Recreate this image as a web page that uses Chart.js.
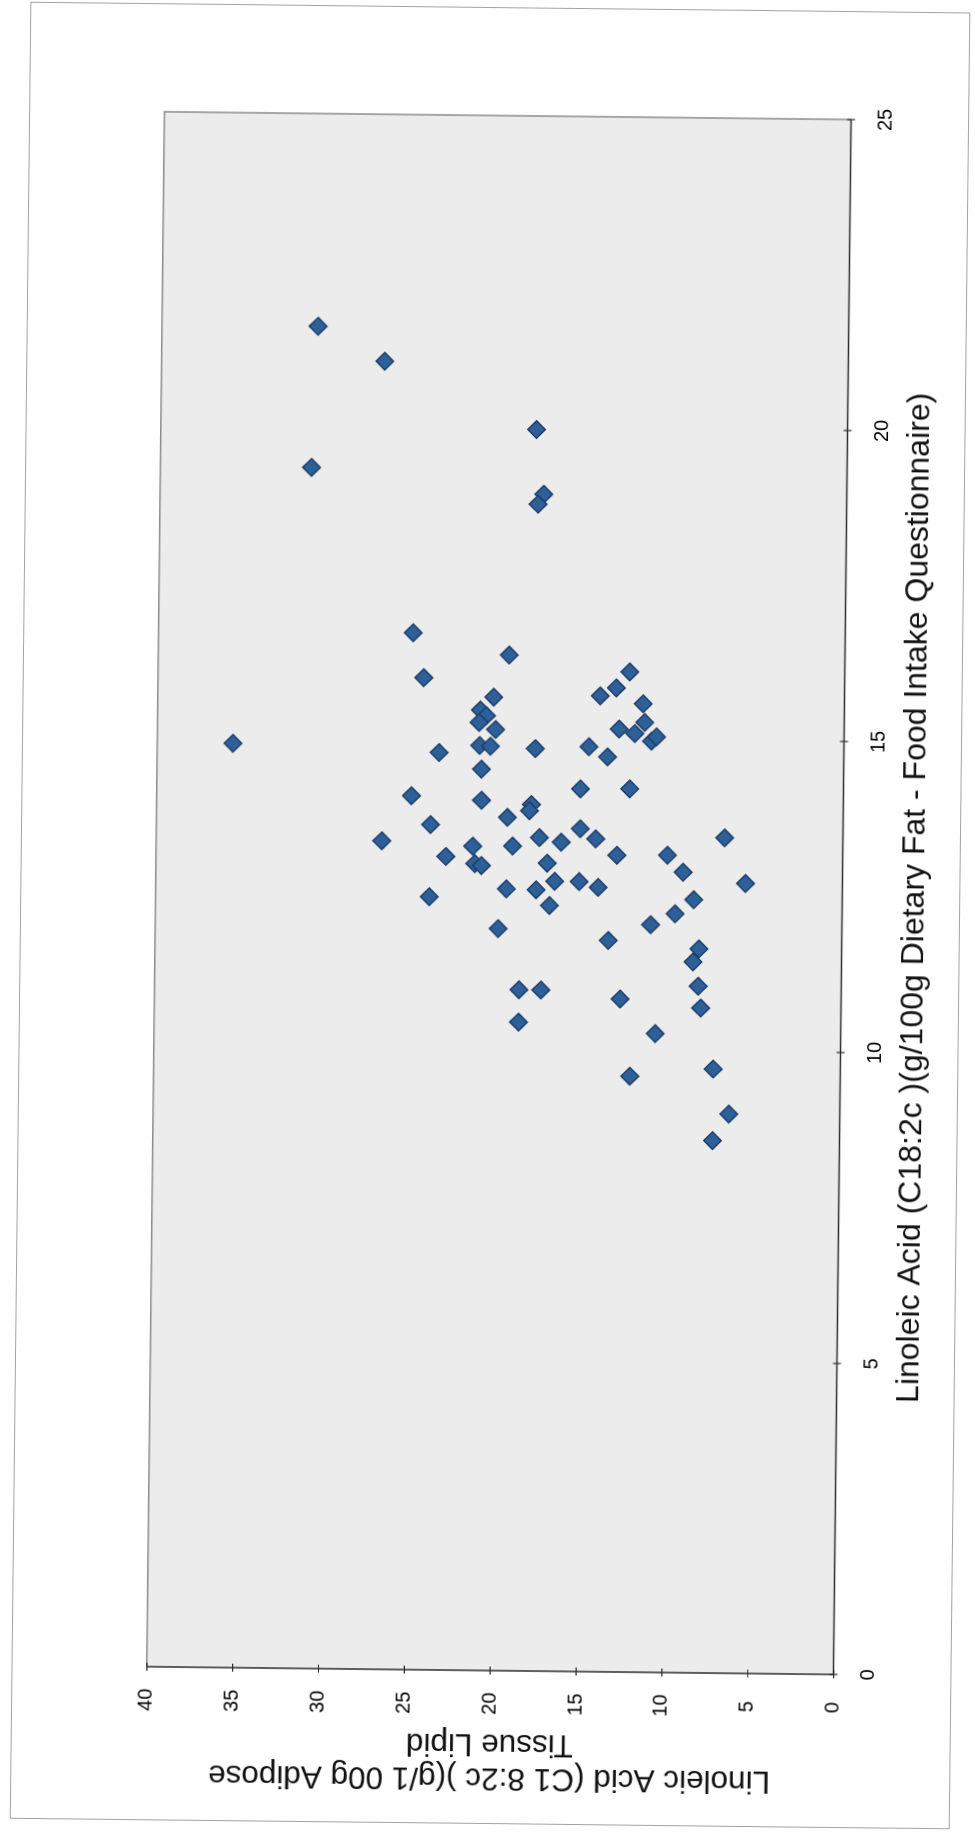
<!DOCTYPE html>
<html>
<head>
<meta charset="utf-8">
<title>Linoleic acid: diet vs adipose tissue</title>
<script src="https://cdn.jsdelivr.net/npm/chart.js@4/dist/chart.umd.min.js"></script>
<style>
  html, body { margin: 0; padding: 0; background: #ffffff; overflow: hidden; }
  #sheet {
    position: absolute; left: 0; top: 0; width: 975px; height: 1838px;
    transform: rotate(0.65deg); transform-origin: 487.5px 919px;
  }
  #page {
    position: absolute; left: 19.7px; top: 7px; width: 940px; height: 1817px;
    box-sizing: border-box; border: 1px solid #a4a4a4; background: #ffffff;
  }
  #c {
    position: absolute; left: -418.8px; top: 445.5px; width: 1817px; height: 940px;
    transform: rotate(-90deg); transform-origin: 50% 50%;
  }
</style>
</head>
<body>
<div id="sheet">
  <div id="page"></div>
  <canvas id="c" width="1817" height="940"></canvas>
</div>
<script>
// Linoleic acid (C18:2c) from the food intake questionnaire, g/100g dietary fat
const dietaryFat = [
  21.58, 21.03, 19.96, 19.31, 18.92, 18.76, 16.67, 16.33, 15.95, 16.08,
  15.82, 15.65, 15.69, 15.57, 15.44, 15.35, 15.24, 15.13, 14.87, 14.86,
  15.27, 15.16, 15.09, 14.97, 15.04, 14.86, 14.75, 14.83, 14.87, 14.71,
  14.49, 14.19, 14.20, 14.05, 13.99, 13.93, 13.83, 13.72, 13.59, 13.55,
  13.32, 13.25, 13.26, 13.40, 13.33, 13.39, 13.08, 12.97, 12.94, 13.13,
  12.99, 12.70, 12.70, 12.61, 12.57, 12.56, 12.31, 12.43, 11.93, 11.76,
  13.43, 13.14, 12.87, 12.70, 12.43, 12.20, 12.02, 11.64, 11.43, 11.04,
  10.69, 10.95, 10.95, 10.43, 10.82, 10.27, 9.71, 9.58, 8.99, 8.56
];

// Linoleic acid (C18:2c) measured in adipose tissue lipid, g/100g
const adiposeLipid = [
  30.91, 27.00, 18.12, 31.20, 17.65, 17.98, 25.17, 19.56, 24.52, 12.53,
  13.30, 20.43, 14.23, 11.73, 21.20, 20.85, 21.27, 20.31, 21.22, 20.59,
  11.62, 13.11, 12.20, 11.22, 10.93, 35.59, 23.58, 17.98, 14.86, 13.77,
  21.10, 15.32, 12.45, 25.16, 21.08, 18.17, 18.28, 19.56, 24.03, 15.31,
  26.86, 21.56, 19.24, 17.68, 16.41, 14.40, 23.12, 21.43, 21.04, 13.16,
  17.21, 16.76, 15.34, 14.23, 19.57, 17.84, 17.06, 24.06, 20.03, 13.61,
  6.89, 10.21, 9.29, 5.65, 8.65, 9.73, 11.15, 8.32, 8.65, 8.34,
  8.18, 18.77, 17.50, 18.78, 12.88, 10.81, 7.41, 12.26, 6.47, 7.40
];

const xTickValues = [0, 5, 10, 15, 20, 25];
const yTickValues = [0, 5, 10, 15, 20, 25, 30, 35, 40];

const xTitle = 'Linoleic Acid (C18:2c )(g/100g Dietary Fat - Food Intake Questionnaire)';
const yTitle = ['Linoleic Acid (C1 8:2c )(g/1 00g Adipose', 'Tissue Lipid'];

const points = dietaryFat.map((x, i) => ({ x: x, y: adiposeLipid[i] }));

const FONT = '"Liberation Sans", Arial, Helvetica, sans-serif';

// Grey plot panel with its frame, and tick marks that cross the two axis lines
const plotFrame = {
  id: 'plotFrame',
  beforeDatasetsDraw(chart) {
    const { ctx, chartArea: a } = chart;
    const xs = chart.scales.x, ys = chart.scales.y;
    ctx.save();
    ctx.fillStyle = '#ececec';
    ctx.fillRect(a.left, a.top, a.right - a.left, a.bottom - a.top);

    ctx.lineWidth = 1.5;
    ctx.strokeStyle = '#8c8c8c';
    ctx.beginPath();
    ctx.moveTo(a.left, a.top); ctx.lineTo(a.right, a.top); ctx.lineTo(a.right, a.bottom);
    ctx.stroke();

    ctx.strokeStyle = '#2c2c2c';
    ctx.beginPath();
    ctx.moveTo(a.left, a.top); ctx.lineTo(a.left, a.bottom); ctx.lineTo(a.right, a.bottom);
    ctx.stroke();

    ctx.lineWidth = 1.2;
    ctx.beginPath();
    xTickValues.forEach(v => {
      const p = xs.getPixelForValue(v);
      ctx.moveTo(p, a.bottom - 4); ctx.lineTo(p, a.bottom + 4);
    });
    yTickValues.forEach(v => {
      const p = ys.getPixelForValue(v);
      ctx.moveTo(a.left - 4, p); ctx.lineTo(a.left + 4, p);
    });
    ctx.stroke();
    ctx.restore();
  }
};

new Chart(document.getElementById('c'), {
  type: 'scatter',
  data: {
    datasets: [{
      data: points,
      pointStyle: 'rectRot',
      pointRadius: 8.8,
      pointBorderWidth: 1.4,
      backgroundColor: '#2d5f98',
      borderColor: '#1c3b64'
    }]
  },
  options: {
    responsive: false,
    devicePixelRatio: 1,
    animation: false,
    events: [],
    layout: { padding: { left: 0, right: 108, top: 135.8, bottom: 0 } },
    plugins: { legend: { display: false }, tooltip: { enabled: false } },
    scales: {
      x: {
        type: 'linear', min: 0, max: 25,
        afterBuildTicks(s) { s.ticks = xTickValues.map(v => ({ value: v })); },
        afterFit(s) { s.height = 117.4; },
        grid: { display: false },
        border: { display: false },
        ticks: { color: '#000000', padding: 15, font: { family: FONT, size: 20 } },
        title: {
          display: true, text: xTitle, color: '#111111',
          padding: { top: 0, bottom: 27.7 },
          font: { family: FONT, size: 32, lineHeight: '34px' }
        }
      },
      y: {
        type: 'linear', min: 0, max: 40,
        afterBuildTicks(s) { s.ticks = yTickValues.map(v => ({ value: v })); },
        afterFit(s) { s.width = 154; },
        grid: { display: false },
        border: { display: false },
        ticks: { color: '#000000', padding: 14, crossAlign: 'center', font: { family: FONT, size: 20 } },
        title: {
          display: true, text: yTitle, color: '#111111',
          padding: { top: 30, bottom: 0 },
          font: { family: FONT, size: 31.5, lineHeight: '34px' }
        }
      }
    }
  },
  plugins: [plotFrame]
});
</script>
</body>
</html>
